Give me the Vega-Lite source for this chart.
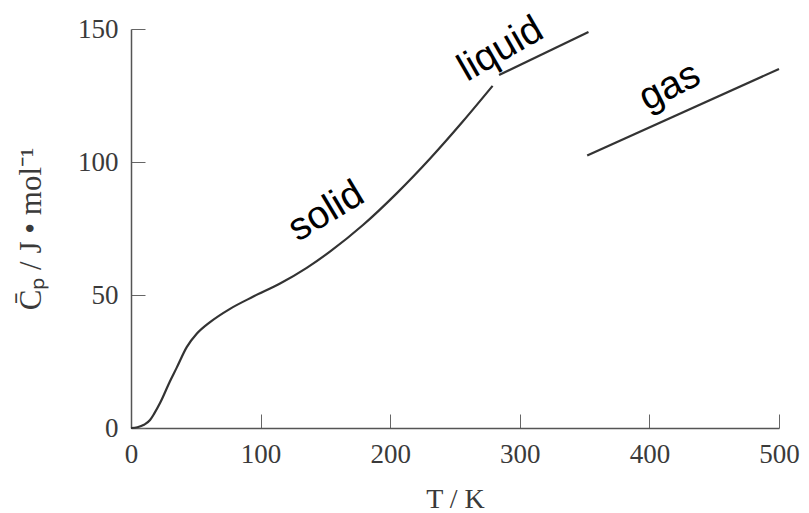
{
  "$schema": "https://vega.github.io/schema/vega-lite/v6.json",
  "width": 648,
  "height": 399,
  "autosize": {"type": "none"},
  "padding": {"left": 131, "top": 29, "right": 30, "bottom": 85},
  "background": "white",
  "config": {
    "view": {"stroke": null},
    "axis": {
      "grid": false,
      "domainColor": "#555555",
      "domainWidth": 1.5,
      "tickColor": "#666666",
      "tickWidth": 1,
      "tickSize": -14,
      "labelFont": "Liberation Serif",
      "labelFontSize": 27,
      "labelColor": "#3a3a3a",
      "titleFont": "Liberation Serif",
      "titleFontSize": 28,
      "titleFontWeight": "normal",
      "titleColor": "#3a3a3a"
    }
  },
  "datasets": {
    "curves": [
      {"phase": "solid", "T": 0, "Cp": 0},
      {"phase": "solid", "T": 5, "Cp": 0.3},
      {"phase": "solid", "T": 10, "Cp": 1.2},
      {"phase": "solid", "T": 14.7, "Cp": 3},
      {"phase": "solid", "T": 18, "Cp": 5.5},
      {"phase": "solid", "T": 22.4, "Cp": 9.4},
      {"phase": "solid", "T": 30, "Cp": 17.5},
      {"phase": "solid", "T": 35.2, "Cp": 22.6},
      {"phase": "solid", "T": 43, "Cp": 30.4},
      {"phase": "solid", "T": 50.7, "Cp": 35.4},
      {"phase": "solid", "T": 61, "Cp": 39.8},
      {"phase": "solid", "T": 76.4, "Cp": 44.8},
      {"phase": "solid", "T": 94.4, "Cp": 49.4},
      {"phase": "solid", "T": 115, "Cp": 54.3},
      {"phase": "solid", "T": 135.6, "Cp": 60.2},
      {"phase": "solid", "T": 153.5, "Cp": 66.3},
      {"phase": "solid", "T": 179, "Cp": 76.3},
      {"phase": "solid", "T": 205, "Cp": 88.2},
      {"phase": "solid", "T": 231, "Cp": 101.4},
      {"phase": "solid", "T": 256, "Cp": 115.2},
      {"phase": "solid", "T": 279, "Cp": 128.6},
      {"phase": "liquid", "T": 284, "Cp": 132.7},
      {"phase": "liquid", "T": 353, "Cp": 148.9},
      {"phase": "gas", "T": 352, "Cp": 102.4},
      {"phase": "gas", "T": 500, "Cp": 135}
    ],
    "labels": [
      {"text": "solid", "T": 150.5, "Cp": 81.5},
      {"text": "liquid", "T": 285, "Cp": 142.5},
      {"text": "gas", "T": 415.5, "Cp": 128.5}
    ]
  },
  "layer": [
    {
      "data": {"name": "curves"},
      "mark": {"type": "line", "interpolate": "monotone", "color": "#333333", "strokeWidth": 2.2},
      "encoding": {
        "x": {
          "field": "T", "type": "quantitative",
          "scale": {"domain": [0, 500], "nice": false},
          "axis": {"values": [0, 100, 200, 300, 400, 500], "title": "T / K", "labelPadding": 27, "titlePadding": 18, "labelFlush": false}
        },
        "y": {
          "field": "Cp", "type": "quantitative",
          "scale": {"domain": [0, 150], "nice": false},
          "axis": {"values": [0, 50, 100, 150], "title": "C̄ₚ / J • mol⁻¹", "titleFontSize": 31, "labelPadding": 27, "titlePadding": 30, "labelFlush": false}
        },
        "detail": {"field": "phase"}
      }
    },
    {
      "data": {"name": "labels"},
      "transform": [{"filter": "datum.text === 'solid'"}],
      "mark": {"type": "text", "font": "Liberation Sans", "fontSize": 39, "angle": -31, "align": "center", "baseline": "middle", "color": "black"},
      "encoding": {"x": {"field": "T", "type": "quantitative"}, "y": {"field": "Cp", "type": "quantitative"}, "text": {"field": "text"}}
    },
    {
      "data": {"name": "labels"},
      "transform": [{"filter": "datum.text === 'liquid'"}],
      "mark": {"type": "text", "font": "Liberation Sans", "fontSize": 39, "angle": -30, "align": "center", "baseline": "middle", "color": "black"},
      "encoding": {"x": {"field": "T", "type": "quantitative"}, "y": {"field": "Cp", "type": "quantitative"}, "text": {"field": "text"}}
    },
    {
      "data": {"name": "labels"},
      "transform": [{"filter": "datum.text === 'gas'"}],
      "mark": {"type": "text", "font": "Liberation Sans", "fontSize": 39, "angle": -27, "align": "center", "baseline": "middle", "color": "black"},
      "encoding": {"x": {"field": "T", "type": "quantitative"}, "y": {"field": "Cp", "type": "quantitative"}, "text": {"field": "text"}}
    }
  ]
}
